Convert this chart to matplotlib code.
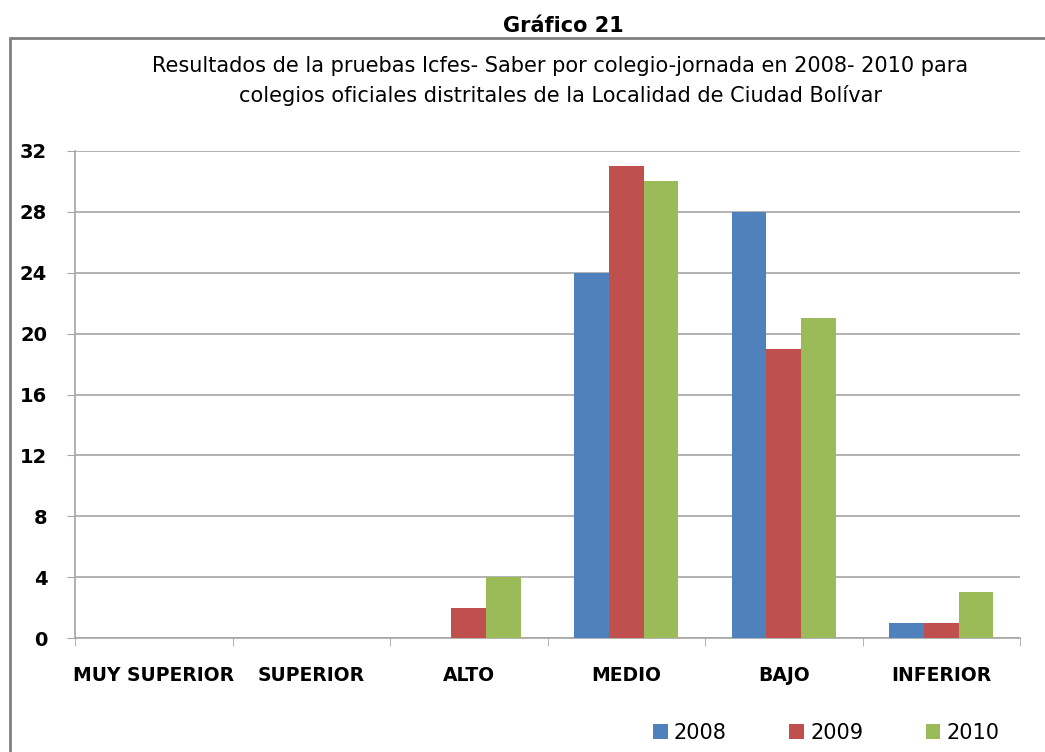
import matplotlib.pyplot as plt
import matplotlib.patches as mpatches
import numpy as np

categories = ['MUY SUPERIOR', 'SUPERIOR', 'ALTO', 'MEDIO', 'BAJO', 'INFERIOR']
years = ['2008', '2009', '2010']
v2008 = [0, 0, 0, 24, 28, 1]
v2009 = [0, 0, 2, 31, 19, 1]
v2010 = [0, 0, 4, 30, 21, 3]
colors = ['#4F81BD', '#C0504D', '#9BBB59']

plt.rcParams['font.family'] = ['DejaVu Sans']

fig = plt.figure(figsize=(10.45, 7.52), dpi=100)

# outer frame of the chart
frame = mpatches.Rectangle((10 / 1045, -0.05), 1.1, 1 - 38 / 752 + 0.05,
                           transform=fig.transFigure, fill=False,
                           edgecolor='#808080', linewidth=2)
fig.patches.append(frame)

fig.text(0.539, 0.966, 'Gráfico 21', ha='center', va='center', fontsize=15,
         fontweight='semibold')
fig.text(0.536, 0.892, 'Resultados de la pruebas Icfes- Saber por colegio-jornada en 2008- 2010 para\n'
         'colegios oficiales distritales de la Localidad de Ciudad Bolívar',
         ha='center', va='center', fontsize=15, linespacing=1.5)

ax = fig.add_axes([75 / 1045, 1 - 638 / 752, (1020 - 75) / 1045, (638 - 151) / 752])

x = np.arange(len(categories))
w = 0.22
for i, (vals, yr) in enumerate(zip([v2008, v2009, v2010], years)):
    ax.bar(x + (i - 1) * w, vals, w, color=colors[i], label=yr, zorder=3)

ax.set_xlim(-0.5, len(categories) - 0.5)
ax.set_ylim(0, 32)
ax.set_yticks(range(0, 33, 4))
ax.yaxis.grid(True, color='#a6a6a6', linewidth=1.2, zorder=0)
ax.set_xticks(x)
ax.set_xticklabels(categories, fontsize=13.5, fontweight='semibold')
ax.tick_params(axis='x', length=0, pad=20)
ax.set_xticks(np.arange(-0.5, len(categories), 1), minor=True)
ax.tick_params(axis='x', which='minor', length=6, color='#a6a6a6')
ax.tick_params(axis='y', length=6, color='#a6a6a6', labelsize=14, pad=14)
for lbl in ax.get_yticklabels():
    lbl.set_fontweight('bold')

for s in ['top', 'right']:
    ax.spines[s].set_visible(False)
for s in ['left', 'bottom']:
    ax.spines[s].set_color('#a6a6a6')
    ax.spines[s].set_linewidth(1.2)

ax.legend(loc='center', bbox_to_anchor=(0.795, -0.195), ncol=3, frameon=False,
          handlelength=0.7, handleheight=0.7, handletextpad=0.3,
          columnspacing=3.0, prop={'size': 15})

fig.savefig('out.png', dpi=100)
